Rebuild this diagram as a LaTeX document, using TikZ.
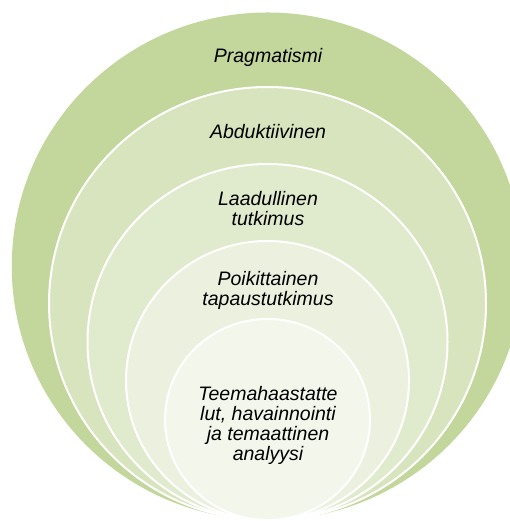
\documentclass[tikz,border=0pt]{standalone}
\usepackage{fontspec}
\setmainfont{Liberation Sans}
\definecolor{ringA}{HTML}{C3D69B}
\definecolor{ringB}{HTML}{D7E4BD}
\definecolor{ringC}{HTML}{E0EACC}
\definecolor{ringD}{HTML}{EBF1DE}
\definecolor{ringE}{HTML}{F2F6EB}
\tikzset{
  ring/.style={draw=white, line width=2pt},
  label/.style={font=\fontsize{19.5}{20}\selectfont\itshape, align=center, text=black, inner sep=0pt}
}
\begin{document}
\begin{tikzpicture}[x=1pt,y=1pt]
  \useasboundingbox (0,0) rectangle (510,521);
  \clip (0,0) rectangle (510,521);
  % nested rings, all touching at the bottom
  \fill[ringA] (267.5,254.75) ellipse [x radius=255.75, y radius=253.75];
  \path[ring, fill=ringB] (267.5,217.5) ellipse [x radius=218.5, y radius=216.5];
  \path[ring, fill=ringC] (267.5,179) ellipse [x radius=180, y radius=178];
  \path[ring, fill=ringD] (267.5,140.5) ellipse [x radius=141.5, y radius=139.5];
  \path[ring, fill=ringE] (267.5,101.5) ellipse [x radius=102.5, y radius=100.5];
  % level labels
  \node[label] (prag) at (268,464) {Pragmatismi};
  \node[label] (abd) at (268,389) {Abduktiivinen};
  \node[label] (laad) at (268,312) {Laadullinen\\tutkimus};
  \node[label] (poik) at (268,231) {Poikittainen\\tapaustutkimus};
  \node[label] (teema) at (268,95.5) {Teemahaastatte\\lut, havainnointi\\ja temaattinen\\analyysi};
\end{tikzpicture}
\end{document}
